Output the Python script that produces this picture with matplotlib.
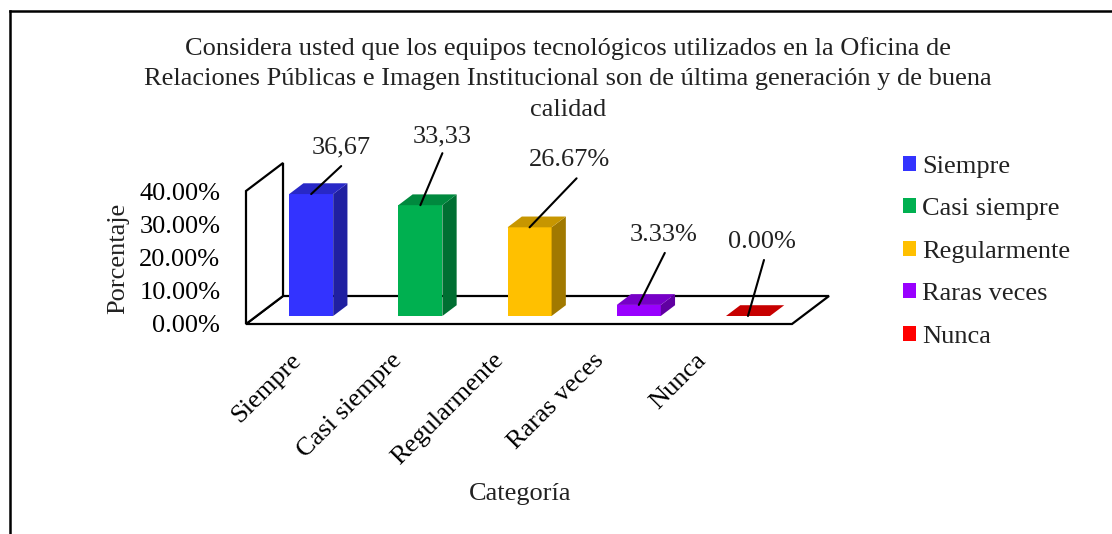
import matplotlib.pyplot as plt
from matplotlib.patches import Polygon, Patch
from matplotlib.lines import Line2D
from matplotlib.colors import to_rgb
from matplotlib.transforms import ScaledTranslation

# Section 1: Data.
categories = ['Siempre', 'Casi siempre', 'Regularmente', 'Raras veces', 'Nunca']
values = [36.67, 33.33, 26.67, 3.33, 0.00]
value_labels = ['36,67', '33,33', '26.67%', '3.33%', '0.00%']
colors = ['#3333FF', '#00B050', '#FFC000', '#9900FF', '#FF0000']
yticks = [0, 10, 20, 30, 40]
title = ("Considera usted que los equipos tecnológicos utilizados en la Oficina de\n"
         "Relaciones Públicas e Imagen Institucional son de última generación y de buena\n"
         "calidad")

# label offsets in pixels (text centre, end of leader line)
text_off = [(30, 47), (22, 69), (40, 67), (25, 70), (14, 74)]
line_off = [(30, 28), (22, 52), (47, 49), (26, 52), (16, 56)]

plt.rcParams['font.family'] = 'Liberation Serif'
plt.rcParams['text.color'] = '#222222'
fs = 19

W, H = 1112, 534
fig = plt.figure(figsize=(W / 100, H / 100), dpi=100)
ax = fig.add_axes([246 / W, (H - 324) / H, 546 / W, 133 / H])
ax.set_xlim(-0.5, 4.5)
ax.set_ylim(0, 40)

# Section 2: 3D look (depth of the floor and of the bars).
ddx, ddy = 0.339, 8.42
f0, fd = 0.286, 0.385
bw = 0.403
n = len(categories)

floor = Polygon([(-0.5, 0), (n - 0.5, 0), (n - 0.5 + ddx, ddy), (-0.5 + ddx, ddy)],
                closed=True, facecolor='white', edgecolor='black', lw=1.6, clip_on=False, zorder=1)
wall = Polygon([(-0.5, 0), (-0.5, 40), (-0.5 + ddx, 40 + ddy), (-0.5 + ddx, ddy)],
               closed=True, facecolor='white', edgecolor='black', lw=1.6, clip_on=False, zorder=1)
ax.add_patch(floor)
ax.add_patch(wall)

for i in range(n):
    c = to_rgb(colors[i])
    side = tuple(v * 0.63 for v in c)
    top = tuple(v * 0.78 for v in c)
    x0 = i - bw / 2 + f0 * ddx
    x1 = i + bw / 2 + f0 * ddx
    y0 = f0 * ddy
    y1 = y0 + values[i]
    ox, oy = fd * ddx, fd * ddy
    if values[i] > 0:
        ax.bar(i + f0 * ddx, values[i], width=bw, bottom=y0, color=colors[i], zorder=3, clip_on=False)
        ax.add_patch(Polygon([(x1, y0), (x1 + ox, y0 + oy), (x1 + ox, y1 + oy), (x1, y1)],
                             closed=True, facecolor=side, edgecolor='none', zorder=3, clip_on=False))
    ax.add_patch(Polygon([(x0, y1), (x1, y1), (x1 + ox, y1 + oy), (x0 + ox, y1 + oy)],
                         closed=True, facecolor=top, edgecolor='none', zorder=3, clip_on=False))

    # data labels with leader lines
    xy = (i + f0 * ddx, y1)
    ax.annotate('', xy=xy, xytext=line_off[i], textcoords='offset pixels',
                arrowprops=dict(arrowstyle='-', color='black', lw=1.5, shrinkA=0, shrinkB=0),
                annotation_clip=False, zorder=4)
    ax.annotate(value_labels[i], xy=xy, xytext=text_off[i], textcoords='offset pixels',
                ha='center', va='center', fontsize=fs, annotation_clip=False, zorder=4)

# Section 3: Axes, ticks and labels.
for s in ax.spines.values():
    s.set_visible(False)
ax.set_yticks(yticks)
ax.set_yticklabels([f"{v:.2f}%" for v in yticks], fontsize=fs)
ax.tick_params(axis='y', length=0, pad=18.5)
ax.set_xticks(range(n))
ax.set_xticklabels(categories, fontsize=fs, rotation=45, ha='right', va='top', rotation_mode='anchor')
ax.tick_params(axis='x', length=0, pad=18)
for i, lab in enumerate(ax.get_xticklabels()):
    lab.set_transform(lab.get_transform() + ScaledTranslation((-11 - 8 * i) / 100, 0, fig.dpi_scale_trans))
ax.patch.set_visible(False)

fig.text(118 / W, (H - 258) / H, 'Porcentaje', rotation=90, ha='center', va='center', fontsize=fs)
fig.text(520 / W, (H - 494) / H, 'Categoría', ha='center', va='center', fontsize=fs)
fig.text(568 / W, (H - 79) / H, title, ha='center', va='center', fontsize=fs, linespacing=1.5)

handles = [Patch(facecolor=c, edgecolor='none') for c in colors]
fig.legend(handles, categories, loc='upper left', bbox_to_anchor=(892 / W, (H - 145) / H),
           frameon=False, fontsize=fs, handlelength=0.5, handleheight=0.5,
           handletextpad=0.25, labelspacing=0.78, borderaxespad=0)

# outer frame (only top and left edges show)
fig.add_artist(Line2D([10 / W, 1], [(H - 11) / H, (H - 11) / H], color='black', lw=1.8))
fig.add_artist(Line2D([10 / W, 10 / W], [0, (H - 11) / H], color='black', lw=1.8))

plt.savefig('out.png', dpi=100)
